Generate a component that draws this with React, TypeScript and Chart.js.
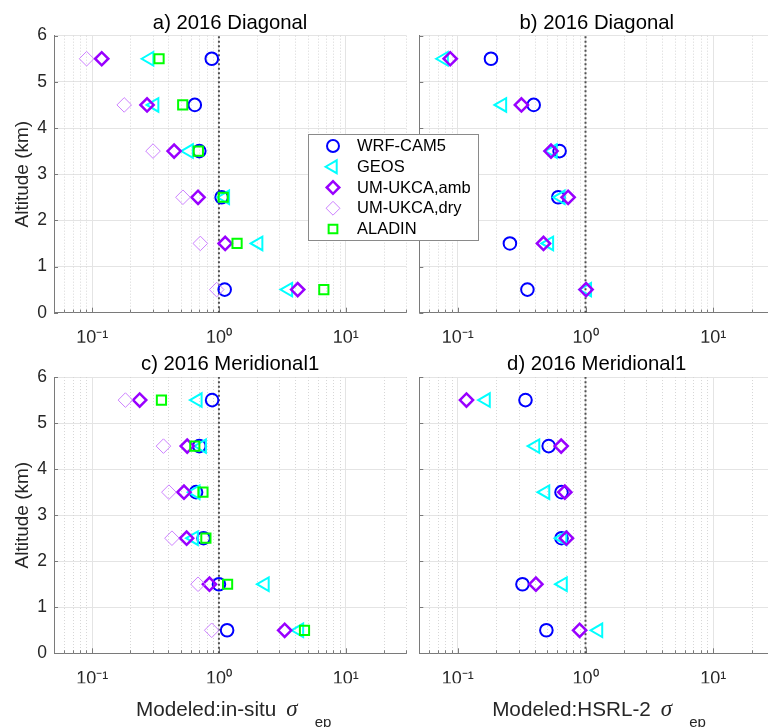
import React, { useEffect, useRef } from 'react';
import { Chart, registerables, PointElement } from 'chart.js';

Chart.register(...registerables);

// ---------------- data ----------------
const altitudes = [0.5, 1.5, 2.5, 3.5, 4.5, 5.5];
const yTicks = [0, 1, 2, 3, 4, 5, 6];
const xMin = 0.05;
const xMax = 30;
const xDecades = [0.1, 1, 10];
const xMinorTicks = [0.05, 0.06, 0.07, 0.08, 0.09, 0.2, 0.3, 0.4, 0.5, 0.6, 0.7, 0.8, 0.9, 2, 3, 4, 5, 6, 7, 8, 9, 20, 30];
const refLineX = 1;

const seriesNames = ['WRF-CAM5', 'GEOS', 'UM-UKCA,amb', 'UM-UKCA,dry', 'ALADIN'];

// values listed for altitudes 0.5 ... 5.5 km
const wrfA = [1.11, null, 1.05, 0.70, 0.645, 0.878];
const geosA = [3.52, 2.05, 1.12, 0.58, 0.31, 0.283];
const ambA = [4.18, 1.12, 0.684, 0.443, 0.271, 0.119];
const dryA = [0.96, 0.713, 0.52, 0.302, 0.179, 0.0904];
const aladinA = [6.72, 1.39, 1.08, 0.688, 0.518, 0.337];

const wrfB = [0.351, 0.256, 0.612, 0.627, 0.393, 0.182];
const geosB = [1.03, 0.52, 0.64, 0.555, 0.223, 0.078];
const ambB = [1.01, 0.469, 0.731, 0.537, 0.315, 0.0873];

const wrfC = [1.16, 1.0, 0.756, 0.66, 0.70, 0.883];
const geosC = [4.3, 2.3, 0.635, 0.655, 0.735, 0.68];
const ambC = [3.3, 0.842, 0.556, 0.53, 0.562, 0.237];
const dryC = [0.877, 0.684, 0.426, 0.403, 0.365, 0.183];
const aladinC = [4.73, 1.17, 0.789, 0.748, 0.645, 0.352];

const wrfD = [0.494, 0.321, 0.649, 0.649, 0.515, 0.339];
const geosD = [1.26, 0.665, 0.66, 0.485, 0.405, 0.166];
const ambD = [0.899, 0.409, 0.709, 0.689, 0.645, 0.117];

// ---------------- styles ----------------
const FONT = "'Liberation Sans', Arial, Helvetica, sans-serif";
const AXIS_COLOR = '#7a7a7a';
const TEXT_COLOR = '#262626';

const seriesStyles = [
  { color: '#0000ff', pointStyle: 'circle', radius: 6.3, borderWidth: 2, rotation: 0, order: 5 },
  { color: '#00ffff', pointStyle: 'triangle', radius: 7.8, borderWidth: 2, rotation: -90, order: 4 },
  { color: '#9900ff', pointStyle: 'rectRot', radius: 6.6, borderWidth: 2.5, rotation: 0, order: 3 },
  { color: '#cc80ff', pointStyle: 'rectRot', radius: 7.3, borderWidth: 1, rotation: 0, order: 2 },
  { color: '#00ff00', pointStyle: 'rect', radius: 6.5, borderWidth: 2, rotation: 0, order: 1 },
];

const supMap: Record<string, string> = { '-': '\u207B', '0': '\u2070', '1': '\u00B9', '2': '\u00B2', '3': '\u00B3' };
const decadeLabel = (v: number) => {
  const e = String(Math.round(Math.log10(v)));
  return '10' + e.split('').map((c) => supMap[c] || c).join('');
};

function seriesDataset(i: number, vals: (number | null)[]) {
  const s = seriesStyles[i];
  const pts = altitudes
    .map((a, k) => (vals[k] == null ? null : { x: vals[k] as number, y: a }))
    .filter((p) => p !== null);
  return {
    label: seriesNames[i],
    data: pts,
    pointStyle: s.pointStyle,
    pointRadius: s.radius,
    pointRotation: s.rotation,
    borderWidth: s.borderWidth,
    pointBorderWidth: s.borderWidth,
    borderColor: s.color,
    pointBorderColor: s.color,
    backgroundColor: 'rgba(0,0,0,0)',
    pointBackgroundColor: 'rgba(0,0,0,0)',
    showLine: false,
    order: s.order,
  };
}

const axesPlugin = {
  id: 'matlabAxes',
  beforeDatasetsDraw(chart: any) {
    const { ctx, chartArea: a, scales } = chart;
    const x = scales.x;
    const y = scales.y;
    ctx.save();
    ctx.lineWidth = 1;
    ctx.strokeStyle = '#d6d6d6';
    ctx.setLineDash([1, 2]);
    for (const v of xMinorTicks) {
      const px = Math.round(x.getPixelForValue(v)) + 0.5;
      if (px < a.left + 2) continue;
      ctx.beginPath();
      ctx.moveTo(px, a.top);
      ctx.lineTo(px, a.bottom);
      ctx.stroke();
    }
    ctx.setLineDash([]);
    ctx.strokeStyle = AXIS_COLOR;
    for (const v of xMinorTicks) {
      const px = Math.round(x.getPixelForValue(v)) + 0.5;
      if (px < a.left + 2) continue;
      ctx.beginPath();
      ctx.moveTo(px, a.bottom);
      ctx.lineTo(px, a.bottom - 3);
      ctx.stroke();
    }
    for (const v of xDecades) {
      const px = Math.round(x.getPixelForValue(v)) + 0.5;
      ctx.beginPath();
      ctx.moveTo(px, a.bottom);
      ctx.lineTo(px, a.bottom - 5);
      ctx.stroke();
    }
    for (const v of yTicks) {
      const py = Math.round(y.getPixelForValue(v)) + 0.5;
      ctx.beginPath();
      ctx.moveTo(a.left, py);
      ctx.lineTo(a.left + 4, py);
      ctx.stroke();
    }
    ctx.restore();
  },
};

type Panel = {
  key: string;
  title: string;
  left: number;
  top: number;
  width: number;
  height: number;
  padding: { left: number; right: number; top: number; bottom: number };
  yAxisWidth: number;
  showY: boolean;
  series: (number | null)[][];
};

const panels: Panel[] = [
  {
    key: 'a', title: 'a) 2016 Diagonal', left: 0, top: 0, width: 416, height: 352,
    padding: { left: 7, right: 2.5, top: 11.3, bottom: 9.3 }, yAxisWidth: 47, showY: true,
    series: [wrfA, geosA, ambA, dryA, aladinA],
  },
  {
    key: 'b', title: 'b) 2016 Diagonal', left: 392, top: 0, width: 392, height: 352,
    padding: { left: 0, right: 5.2, top: 11.3, bottom: 9.3 }, yAxisWidth: 27.3, showY: false,
    series: [wrfB, geosB, ambB, [], []],
  },
  {
    key: 'c', title: 'c) 2016 Meridional1', left: 0, top: 345, width: 416, height: 382,
    padding: { left: 7, right: 2.5, top: 7.7, bottom: 43.7 }, yAxisWidth: 47, showY: true,
    series: [wrfC, geosC, ambC, dryC, aladinC],
  },
  {
    key: 'd', title: 'd) 2016 Meridional1', left: 392, top: 345, width: 392, height: 382,
    padding: { left: 0, right: 5.2, top: 7.7, bottom: 43.7 }, yAxisWidth: 27.3, showY: false,
    series: [wrfD, geosD, ambD, [], []],
  },
];

function panelConfig(p: Panel): any {
  const datasets: any[] = p.series.map((vals, i) => seriesDataset(i, vals));
  datasets.push({
    label: 'ref',
    data: [
      { x: refLineX, y: yTicks[0] },
      { x: refLineX, y: yTicks[yTicks.length - 1] },
    ],
    showLine: true,
    borderColor: '#505050',
    borderWidth: 2,
    borderDash: [2, 2.5],
    pointRadius: 0,
    order: 10,
  });
  return {
    type: 'scatter',
    data: { datasets },
    plugins: [axesPlugin],
    options: {
      animation: false,
      responsive: false,
      maintainAspectRatio: false,
      events: [],
      layout: { padding: p.padding },
      plugins: {
        legend: { display: false },
        tooltip: { enabled: false },
        title: {
          display: true,
          text: p.title,
          fullSize: false,
          color: '#000',
          font: { family: FONT, size: 20.3, weight: 'normal' },
          padding: 0,
        },
      },
      scales: {
        x: {
          type: 'logarithmic',
          min: xMin,
          max: xMax,
          afterBuildTicks: (s: any) => {
            s.ticks = xDecades.map((v) => ({ value: v }));
          },
          afterFit: (s: any) => {
            s.height = 30;
          },
          ticks: {
            callback: (v: any) => decadeLabel(Number(v)),
            font: { family: FONT, size: 18 },
            color: TEXT_COLOR,
            padding: 15,
            autoSkip: false,
            maxRotation: 0,
          },
          grid: { color: '#e4e4e4', drawTicks: false, lineWidth: 1 },
          border: { color: AXIS_COLOR, width: 1 },
        },
        y: {
          type: 'linear',
          min: yTicks[0],
          max: yTicks[yTicks.length - 1],
          afterBuildTicks: (s: any) => {
            s.ticks = yTicks.map((v) => ({ value: v }));
          },
          afterFit: (s: any) => {
            s.width = p.yAxisWidth;
          },
          ticks: {
            display: p.showY,
            font: { family: FONT, size: 17.5 },
            color: TEXT_COLOR,
            padding: 7,
          },
          grid: { color: '#e4e4e4', drawTicks: false, lineWidth: 1 },
          border: { color: AXIS_COLOR, width: 1 },
          title: {
            display: p.showY,
            text: 'Altitude (km)',
            color: TEXT_COLOR,
            font: { family: FONT, size: 19 },
            padding: { top: 4, bottom: 4 },
          },
        },
      },
    },
  };
}

const legendPlugin = {
  id: 'boxLegend',
  afterDraw(chart: any) {
    const ctx = chart.ctx;
    ctx.save();
    ctx.fillStyle = '#ffffff';
    ctx.fillRect(2, 2, 170, 106);
    ctx.strokeStyle = '#8a8a8a';
    ctx.lineWidth = 1;
    ctx.strokeRect(2.5, 2.5, 170, 106);
    chart.data.datasets.forEach((ds: any, i: number) => {
      const cy = 14 + i * 20.75;
      const pt: any = new PointElement({} as any);
      pt.x = 27;
      pt.y = cy;
      pt.options = {
        pointStyle: ds.pointStyle,
        radius: ds.pointRadius * 0.95,
        rotation: ds.pointRotation || 0,
        borderWidth: ds.pointBorderWidth,
        borderColor: ds.pointBorderColor,
        backgroundColor: 'rgba(0,0,0,0)',
      };
      pt.draw(ctx);
      ctx.fillStyle = '#000';
      ctx.font = `16.5px ${FONT}`;
      ctx.textBaseline = 'middle';
      ctx.textAlign = 'left';
      ctx.fillText(ds.label, 51, cy + 0.5);
    });
    ctx.restore();
  },
};

function legendConfig(): any {
  return {
    type: 'scatter',
    data: { datasets: seriesNames.map((_, i) => seriesDataset(i, [])) },
    plugins: [legendPlugin],
    options: {
      animation: false,
      responsive: false,
      maintainAspectRatio: false,
      events: [],
      plugins: { legend: { display: false }, tooltip: { enabled: false }, title: { display: false } },
      scales: { x: { display: false }, y: { display: false } },
    },
  };
}

function ChartCanvas({ config, left, top, width, height }: any) {
  const ref = useRef<HTMLCanvasElement | null>(null);
  useEffect(() => {
    const chart = new Chart(ref.current as HTMLCanvasElement, config);
    return () => chart.destroy();
  }, []);
  return (
    <canvas
      ref={ref}
      width={width}
      height={height}
      style={{ position: 'absolute', left, top, width, height }}
    />
  );
}

function XLabel({ cx, text }: { cx: number; text: string }) {
  return (
    <div
      style={{
        position: 'absolute',
        left: cx - 200,
        width: 400,
        top: 697,
        textAlign: 'center',
        fontFamily: FONT,
        fontSize: 20.7,
        lineHeight: '24px',
        color: TEXT_COLOR,
        whiteSpace: 'nowrap',
      }}
    >
      <span>{text}</span>
      <span style={{ marginLeft: 10, fontStyle: 'italic', fontFamily: "'Liberation Serif', 'DejaVu Serif', serif", fontSize: 23 }}>σ</span>
      <span style={{ marginLeft: 17, fontSize: 15, position: 'relative', top: 10.5 }}>ep</span>
    </div>
  );
}

export default function App() {
  return (
    <div
      style={{
        position: 'absolute',
        left: 0,
        top: 0,
        width: 768,
        height: 727,
        overflow: 'hidden',
        background: '#ffffff',
      }}
    >
      {panels.map((p) => (
        <ChartCanvas key={p.key} config={panelConfig(p)} left={p.left} top={p.top} width={p.width} height={p.height} />
      ))}
      <XLabel cx={233.7} text="Modeled:in-situ" />
      <XLabel cx={599} text="Modeled:HSRL-2" />
      <ChartCanvas config={legendConfig()} left={306} top={132} width={176} height={112} />
    </div>
  );
}
